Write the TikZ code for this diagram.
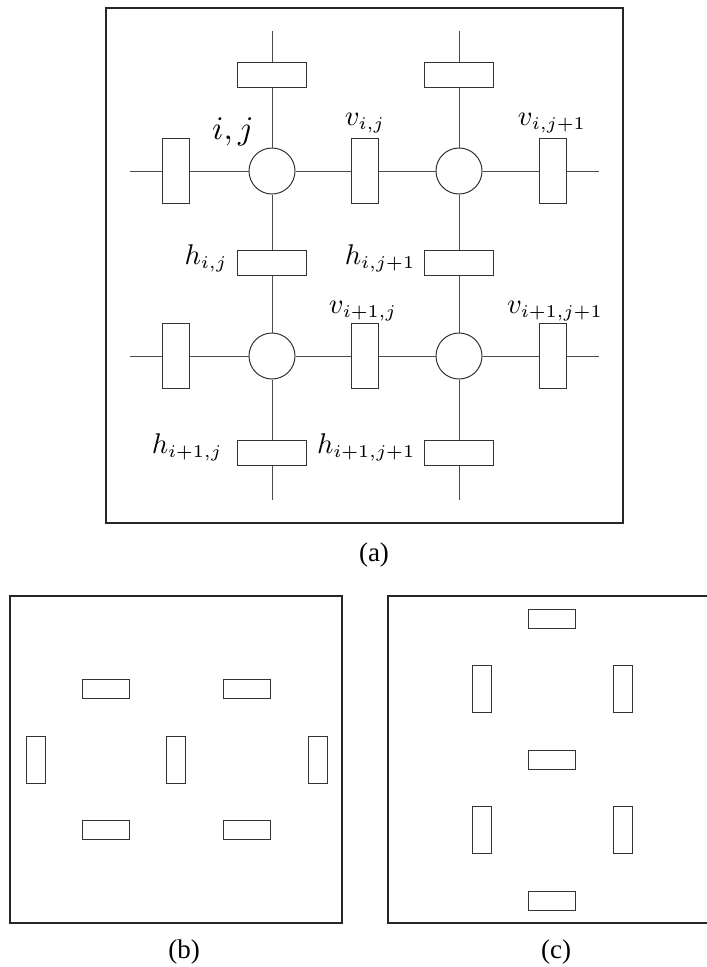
\RequirePackage{fix-cm}
\documentclass[tikz,border=0pt]{standalone}
\usepackage[no-math]{fontspec}
\newfontfamily\capfont{Liberation Serif}
% smaller subscripts in the index labels
\DeclareMathSizes{10}{10}{6.3}{5}
\begin{document}
\begin{tikzpicture}[x=1pt,y=-1pt,
  wire/.style={line width=1pt, draw=black!70},
  frame/.style={line width=1.2pt, draw=black!85},
  hbox/.style={rectangle, draw=black!80, line width=1pt, fill=white,
    minimum width=69pt, minimum height=25pt, inner sep=0},
  vbox/.style={rectangle, draw=black!80, line width=1pt, fill=white,
    minimum width=27pt, minimum height=65pt, inner sep=0},
  site/.style={circle, draw=black!80, line width=1pt, fill=white,
    minimum size=46pt, inner sep=0},
  shbox/.style={rectangle, draw=black!80, line width=1pt,
    minimum width=47pt, minimum height=19pt, inner sep=0},
  svbox/.style={rectangle, draw=black!80, line width=1pt,
    minimum width=19pt, minimum height=47pt, inner sep=0},
  lab/.style={inner sep=0, scale=2.85},
  captext/.style={font=\capfont\fontsize{27}{32}\selectfont, inner sep=0, anchor=base}
]
\useasboundingbox (0,0) rectangle (707,967);
\clip (0,0) rectangle (707,967);

% ---------- (a) lattice of sites and couplings ----------
\draw[frame] (106,8) rectangle (623,523);

\node[site] (c11) at (272,171) {};
\node[site] (c12) at (459,171) {};
\node[site] (c21) at (272,356) {};
\node[site] (c22) at (459,356) {};

\node[hbox] (ht1) at (272,75) {};
\node[hbox] (ht2) at (459,75) {};
\node[hbox] (h11) at (272,263) {};
\node[hbox] (h12) at (459,263) {};
\node[hbox] (h21) at (272,453) {};
\node[hbox] (h22) at (459,453) {};

\node[vbox] (vl1) at (176,171) {};
\node[vbox] (v11) at (365,171) {};
\node[vbox] (v12) at (553,171) {};
\node[vbox] (vl2) at (176,356) {};
\node[vbox] (v21) at (365,356) {};
\node[vbox] (v22) at (553,356) {};

\coordinate (t1) at (272,31);
\coordinate (t2) at (459,31);
\coordinate (b1) at (272,500);
\coordinate (b2) at (459,500);
\coordinate (l1) at (130,171);
\coordinate (l2) at (130,356);
\coordinate (r1) at (599,171);
\coordinate (r2) at (599,356);

% vertical wires
\draw[wire] (t1) -- (ht1);
\draw[wire] (ht1) -- (c11);
\draw[wire] (c11) -- (h11);
\draw[wire] (h11) -- (c21);
\draw[wire] (c21) -- (h21);
\draw[wire] (h21) -- (b1);
\draw[wire] (t2) -- (ht2);
\draw[wire] (ht2) -- (c12);
\draw[wire] (c12) -- (h12);
\draw[wire] (h12) -- (c22);
\draw[wire] (c22) -- (h22);
\draw[wire] (h22) -- (b2);
% horizontal wires
\draw[wire] (l1) -- (vl1);
\draw[wire] (vl1) -- (c11);
\draw[wire] (c11) -- (v11);
\draw[wire] (v11) -- (c12);
\draw[wire] (c12) -- (v12);
\draw[wire] (v12) -- (r1);
\draw[wire] (l2) -- (vl2);
\draw[wire] (vl2) -- (c21);
\draw[wire] (c21) -- (v21);
\draw[wire] (v21) -- (c22);
\draw[wire] (c22) -- (v22);
\draw[wire] (v22) -- (r2);

% labels
\node[inner sep=0, scale=3.3, anchor=base] (lij) at (233,139) {$i,j$};
\node[lab, anchor=base] (lv11) at (365,125) {$v_{i,j}$};
\node[lab, anchor=base] (lv12) at (552,125) {$v_{i,j+1}$};
\node[lab, anchor=base] (lv21) at (363,313) {$v_{i+1,j}$};
\node[lab, anchor=base] (lv22) at (555,313) {$v_{i+1,j+1}$};
\node[lab, anchor=base east] (lh11) at (228,264) {$h_{i,j}$};
\node[lab, anchor=base east] (lh12) at (416,264) {$h_{i,j+1}$};
\node[lab, anchor=base east] (lh21) at (223,453) {$h_{i+1,j}$};
\node[lab, anchor=base east] (lh22) at (416,453) {$h_{i+1,j+1}$};

\node[captext] (capa) at (374,561) {(a)};

% ---------- (b) ----------
\draw[frame] (10,596) rectangle (342,923);
\node[shbox] (b1h) at (106,689) {};
\node[shbox] (b2h) at (247,689) {};
\node[shbox] (b3h) at (106,830) {};
\node[shbox] (b4h) at (247,830) {};
\node[svbox] (b1v) at (36,760) {};
\node[svbox] (b2v) at (176,760) {};
\node[svbox] (b3v) at (318,760) {};
\node[captext] (capb) at (184,958) {(b)};

% ---------- (c) ----------
\draw[frame] (388,596) rectangle (722,923);
\node[shbox] (c1h) at (552,619) {};
\node[shbox] (c2h) at (552,760) {};
\node[shbox] (c3h) at (552,901) {};
\node[svbox] (c1v) at (482,689) {};
\node[svbox] (c2v) at (623,689) {};
\node[svbox] (c3v) at (482,830) {};
\node[svbox] (c4v) at (623,830) {};
\node[captext] (capc) at (556,958) {(c)};
\end{tikzpicture}
\end{document}
